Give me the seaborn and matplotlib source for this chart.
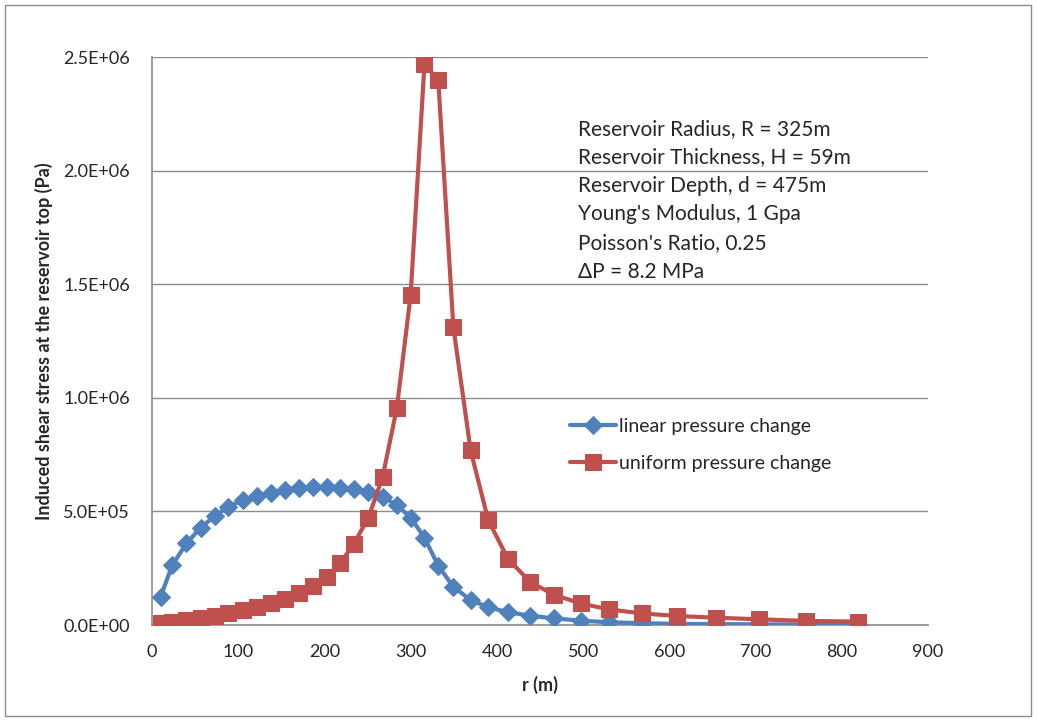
import matplotlib
matplotlib.use("Agg")
import matplotlib.pyplot as plt
import seaborn as sns
import pandas as pd
from matplotlib.ticker import FuncFormatter, MultipleLocator
from matplotlib.patches import Rectangle

r = [10, 23.5, 40, 56.5, 73, 88.5, 105, 121.5, 138, 154, 170, 186.5, 203, 218,
     234, 251, 267.5, 284, 300, 316, 332, 349.5, 369.5, 390, 413, 438.5, 466.5,
     497.5, 529.5, 568, 608.5, 654.5, 704.5, 758.5, 818.5]

linear = [1.24e5, 2.64e5, 3.59e5, 4.29e5, 4.80e5, 5.20e5, 5.49e5, 5.68e5, 5.83e5,
          5.96e5, 6.05e5, 6.08e5, 6.08e5, 6.03e5, 5.98e5, 5.86e5, 5.64e5, 5.27e5,
          4.73e5, 3.84e5, 2.61e5, 1.68e5, 1.10e5, 7.8e4, 5.6e4, 4.1e4, 2.9e4,
          1.9e4, 1.2e4, 8e3, 5e3, 4e3, 3e3, 2e3, 1.5e3]

uniform = [1.0e4, 1.5e4, 2.2e4, 2.9e4, 4.0e4, 5.1e4, 6.6e4, 8.0e4, 9.8e4, 1.16e5,
           1.39e5, 1.73e5, 2.12e5, 2.71e5, 3.56e5, 4.73e5, 6.52e5, 9.56e5,
           1.453e6, 2.468e6, 2.398e6, 1.312e6, 7.69e5, 4.61e5, 2.90e5, 1.90e5,
           1.32e5, 9.5e4, 6.9e4, 5.1e4, 4.0e4, 3.2e4, 2.5e4, 1.8e4, 1.5e4]

series_names = ["linear pressure change", "uniform pressure change"]

annotation_lines = [
    "Reservoir Radius, R = 325m",
    "Reservoir Thickness, H = 59m",
    "Reservoir Depth, d = 475m",
    "Young's Modulus, 1 Gpa",
    "Poisson's Ratio, 0.25",
    "\u0394P = 8.2 MPa",
]

sns.set_style("white")
plt.rcParams['font.family'] = ['Lato', 'DejaVu Sans']

fig = plt.figure(figsize=(10.37, 7.2), dpi=100)
ax = fig.add_axes([152/1037, 1 - 625/720, (928-152)/1037, (625-57)/720])

blue = "#4F81BD"
red = "#C0504D"

df1 = pd.DataFrame({"r": r, "v": linear})
df2 = pd.DataFrame({"r": r, "v": uniform})
sns.lineplot(data=df1, x="r", y="v", ax=ax, color=blue, linewidth=3,
             marker="D", markersize=9, markeredgecolor=blue, label=series_names[0],
             sort=False, zorder=3)
sns.lineplot(data=df2, x="r", y="v", ax=ax, color=red, linewidth=3,
             marker="s", markersize=11, markeredgecolor=red, label=series_names[1],
             sort=False, zorder=4)

ax.set_xlim(0, 900)
ax.set_ylim(0, 2.5e6)
ax.xaxis.set_major_locator(MultipleLocator(100))
ax.yaxis.set_major_locator(MultipleLocator(5e5))
ax.yaxis.set_major_formatter(FuncFormatter(lambda v, p: "%.1E" % v))
ax.grid(axis="y", color="#8c8c8c", linewidth=1)
ax.set_axisbelow(True)
for s in ["top", "right"]:
    ax.spines[s].set_visible(False)
for s in ["left", "bottom"]:
    ax.spines[s].set_color("#8c8c8c")
    ax.spines[s].set_linewidth(1.2)
ax.tick_params(axis="y", length=5, color="#8c8c8c", labelsize=13, pad=11)
ax.tick_params(axis="x", length=0, labelsize=13, pad=14)
ax.set_xlabel("r (m)", fontsize=13, fontweight="bold", labelpad=11)
ax.set_ylabel("Induced shear stress at the reservoir top (Pa)", fontsize=13,
              fontweight="bold", labelpad=7)

for i, t in enumerate(annotation_lines):
    fig.text(578 / 1037, 1 - (129 + i * 28.5) / 720, t, fontsize=15, va="center")

leg = ax.legend(loc="upper left", bbox_to_anchor=((562-152)/776, (625-410)/568),
                frameon=False, fontsize=14, handlelength=2.4, handletextpad=0.15,
                labelspacing=1.05, borderaxespad=0)

fig.patches.append(Rectangle((5/1037, 4/720), 1026/1037, 711/720, transform=fig.transFigure,
                             fill=False, edgecolor="#8c8c8c", linewidth=1))

fig.savefig("out.png", dpi=100)
